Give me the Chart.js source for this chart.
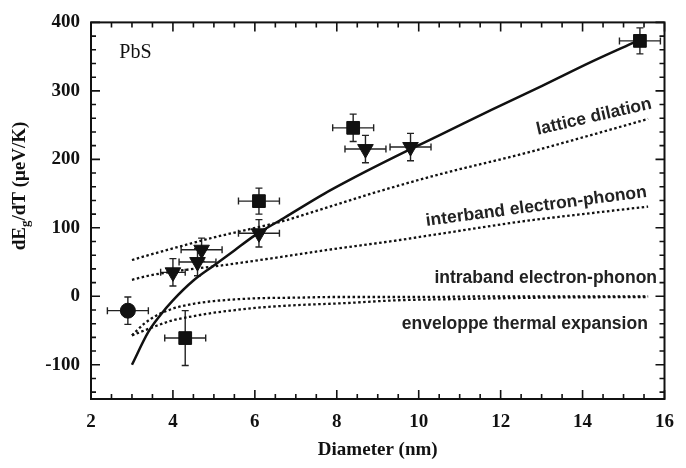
<!DOCTYPE html>
<html>
<head>
<meta charset="utf-8">
<script src="https://cdn.jsdelivr.net/npm/chart.js@4.4.1/dist/chart.umd.min.js"></script>
<style>
  html, body { margin: 0; padding: 0; background: #fff; }
  #wrap { width: 686px; height: 468px; }
</style>
</head>
<body>
<div id="wrap"><canvas id="shiftChart"></canvas></div>
<script>
// ---- measured points (diameter nm, dEg/dT ueV/K, error bars) ----
const circleD = [2.9];
const circleShift = [-21];
const circleDErr = [0.5];
const circleShiftErr = [20];

const squareD = [4.3, 6.1, 8.4, 15.4];
const squareShift = [-61, 139, 246, 373];
const squareDErr = [0.5, 0.5, 0.5, 0.5];
const squareShiftErr = [40, 19, 20, 19];

const triangleD = [4.0, 4.6, 4.7, 6.1, 8.7, 9.8];
const triangleShift = [35, 50, 68, 92, 215, 218];
const triangleDErr = [0.3, 0.45, 0.5, 0.5, 0.5, 0.5];
const triangleShiftErr = [20, 20, 17, 20, 20, 20];

// ---- model curves ----
const totalD = [3.0, 3.4, 3.7, 4.0, 4.5, 5.0, 5.5, 6.0, 6.7, 7.7, 8.7, 9.7, 10.5, 11.8, 13.0, 14.2, 15.3];
const totalShift = [-100, -52, -27, -6, 23, 45, 67, 89, 114, 150, 182, 212, 235, 273, 307, 342, 372];

const latticeD = [3.0, 3.4, 4.0, 5.0, 5.8, 6.7, 7.2, 8.9, 10.5, 12.6, 14.0, 15.6];
const latticeShift = [53, 60, 70, 86, 97, 110, 119, 151, 178, 209, 232, 259];

const interbandD = [3.0, 3.4, 4.0, 5.3, 6.7, 7.8, 9.4, 10.6, 12.6, 14.0, 15.6];
const interbandShift = [24, 30, 36, 46, 58, 68, 81, 92, 110, 120, 131];

const intrabandD = [3.0, 3.3, 3.6, 4.0, 4.5, 5.0, 6.0, 7.0, 8.0, 10.0, 12.0, 15.6];
const intrabandShift = [-57, -40, -28, -18, -11, -7, -3, -2, -1, -1, 0, 0];

const envelopeD = [3.0, 3.3, 3.6, 4.0, 4.5, 5.0, 5.4, 6.0, 7.0, 8.2, 9.4, 11.0, 13.0, 15.6];
const envelopeShift = [-57, -50, -43, -35, -29, -24, -21, -17, -13, -10, -6, -4, -2, -1];

const xTickValues = [2, 4, 6, 8, 10, 12, 14, 16];
const yTickValues = [-100, 0, 100, 200, 300, 400];

// curve labels placed in data coordinates
const curveLabels = [
  { text: "lattice dilation", x: 14.28, y: 262, angle: -13 },
  { text: "interband electron-phonon", x: 12.87, y: 131, angle: -7.5 },
  { text: "intraband electron-phonon", x: 13.1, y: 26, angle: 0 },
  { text: "enveloppe thermal expansion", x: 12.59, y: -40, angle: 0 },
];

const ink = "#111";
const serif = '"Liberation Serif", "DejaVu Serif", serif';
const sans = '"Liberation Sans", Arial, sans-serif';

function toPoints(xs, ys) {
  return xs.map((x, i) => ({ x, y: ys[i] }));
}

function curve(xs, ys, dashed) {
  return {
    type: "scatter",
    data: toPoints(xs, ys),
    showLine: true,
    borderColor: ink,
    borderWidth: dashed ? 2.3 : 2.5,
    borderDash: dashed ? [2.5, 2.5] : [],
    pointRadius: 0,
    cubicInterpolationMode: "monotone",
  };
}

function markers(xs, ys, xErr, yErr, style, radius, rotation) {
  return {
    type: "scatter",
    data: toPoints(xs, ys),
    xErr,
    yErr,
    pointStyle: style,
    pointRadius: radius,
    rotation: rotation || 0,
    backgroundColor: ink,
    borderColor: ink,
    borderWidth: 1,
  };
}

// error bars with caps, under the markers
const errorBars = {
  id: "errorBars",
  beforeDatasetsDraw(chart) {
    const { ctx, scales: { x, y } } = chart;
    ctx.save();
    ctx.strokeStyle = "#222";
    ctx.lineWidth = 1.4;
    chart.data.datasets.forEach(ds => {
      if (!ds.xErr) return;
      ds.data.forEach((p, i) => {
        const px = x.getPixelForValue(p.x);
        const py = y.getPixelForValue(p.y);
        const x0 = x.getPixelForValue(p.x - ds.xErr[i]);
        const x1 = x.getPixelForValue(p.x + ds.xErr[i]);
        const y0 = y.getPixelForValue(p.y - ds.yErr[i]);
        const y1 = y.getPixelForValue(p.y + ds.yErr[i]);
        const cap = 3.5;
        ctx.beginPath();
        ctx.moveTo(x0, py); ctx.lineTo(x1, py);
        ctx.moveTo(x0, py - cap); ctx.lineTo(x0, py + cap);
        ctx.moveTo(x1, py - cap); ctx.lineTo(x1, py + cap);
        ctx.moveTo(px, y0); ctx.lineTo(px, y1);
        ctx.moveTo(px - cap, y0); ctx.lineTo(px + cap, y0);
        ctx.moveTo(px - cap, y1); ctx.lineTo(px + cap, y1);
        ctx.stroke();
      });
    });
    ctx.restore();
  },
};

// box with inward major/minor ticks on all four sides, plus texts
const frameAndText = {
  id: "frameAndText",
  afterDraw(chart) {
    const { ctx, chartArea: a, scales: { x, y } } = chart;
    ctx.save();
    ctx.strokeStyle = ink;
    ctx.lineWidth = 2;
    ctx.strokeRect(a.left, a.top, a.right - a.left, a.bottom - a.top);

    ctx.lineWidth = 1.6;
    ctx.beginPath();
    for (let v = x.min; v <= x.max + 1e-6; v += 0.5) {
      const px = x.getPixelForValue(v);
      const len = v % 2 === 0 ? 9 : 5;
      ctx.moveTo(px, a.bottom); ctx.lineTo(px, a.bottom - len);
      ctx.moveTo(px, a.top); ctx.lineTo(px, a.top + len);
    }
    for (let v = -140; v <= y.max; v += 20) {
      const py = y.getPixelForValue(v);
      const len = v % 100 === 0 ? 9 : 5;
      ctx.moveTo(a.left, py); ctx.lineTo(a.left + len, py);
      ctx.moveTo(a.right, py); ctx.lineTo(a.right - len, py);
    }
    ctx.stroke();

    // sample name
    ctx.fillStyle = ink;
    ctx.font = "20px " + serif;
    ctx.textAlign = "left";
    ctx.textBaseline = "middle";
    ctx.fillText("PbS", x.getPixelForValue(2.69), y.getPixelForValue(356));

    // curve names
    ctx.font = "bold 17.5px " + sans;
    ctx.fillStyle = "#222";
    ctx.textAlign = "center";
    curveLabels.forEach(l => {
      ctx.save();
      ctx.translate(x.getPixelForValue(l.x), y.getPixelForValue(l.y));
      ctx.rotate(l.angle * Math.PI / 180);
      ctx.fillText(l.text, 0, 0);
      ctx.restore();
    });

    // y title with subscript g
    const big = "bold 19px " + serif;
    const small = "bold 13px " + serif;
    ctx.translate(20, 186);
    ctx.rotate(-Math.PI / 2);
    ctx.textAlign = "left";
    ctx.fillStyle = ink;
    ctx.font = big;
    const w1 = ctx.measureText("dE").width;
    const w3 = ctx.measureText("/dT (\u03bceV/K)").width;
    ctx.font = small;
    const w2 = ctx.measureText("g").width;
    let cx = -(w1 + w2 + w3) / 2;
    ctx.font = big;
    ctx.fillText("dE", cx, 0);
    cx += w1;
    ctx.font = small;
    ctx.fillText("g", cx, 6);
    cx += w2;
    ctx.font = big;
    ctx.fillText("/dT (\u03bceV/K)", cx, 0);
    ctx.restore();
  },
};

new Chart(document.getElementById("shiftChart").getContext("2d"), {
  type: "scatter",
  data: {
    datasets: [
      curve(totalD, totalShift, false),
      curve(latticeD, latticeShift, true),
      curve(interbandD, interbandShift, true),
      curve(intrabandD, intrabandShift, true),
      curve(envelopeD, envelopeShift, true),
      markers(circleD, circleShift, circleDErr, circleShiftErr, "circle", 7.5),
      markers(squareD, squareShift, squareDErr, squareShiftErr, "rect", 9),
      markers(triangleD, triangleShift, triangleDErr, triangleShiftErr, "triangle", 9, 180),
    ],
  },
  options: {
    responsive: true,
    maintainAspectRatio: false,
    animation: false,
    layout: { padding: { top: 13, right: 10, left: 0, bottom: 0 } },
    plugins: {
      legend: { display: false },
      tooltip: { enabled: false },
    },
    scales: {
      x: {
        type: "linear",
        min: 2,
        max: 16,
        afterBuildTicks: s => { s.ticks = xTickValues.map(v => ({ value: v })); },
        afterFit: s => { s.height = 69; },
        grid: { display: false, drawTicks: false },
        border: { display: false },
        ticks: { color: ink, padding: 12, font: { family: serif, size: 19, weight: "bold" } },
        title: {
          display: true,
          text: "Diameter (nm)",
          color: ink,
          font: { family: serif, size: 19, weight: "bold" },
          padding: { top: 0, bottom: 7 },
        },
      },
      y: {
        type: "linear",
        min: -150,
        max: 400,
        afterBuildTicks: s => { s.ticks = yTickValues.map(v => ({ value: v })); },
        afterFit: s => { s.width = 91; },
        grid: { display: false, drawTicks: false },
        border: { display: false },
        ticks: { color: ink, padding: 11, font: { family: serif, size: 19, weight: "bold" } },
      },
    },
  },
  plugins: [errorBars, frameAndText],
});
</script>
</body>
</html>
